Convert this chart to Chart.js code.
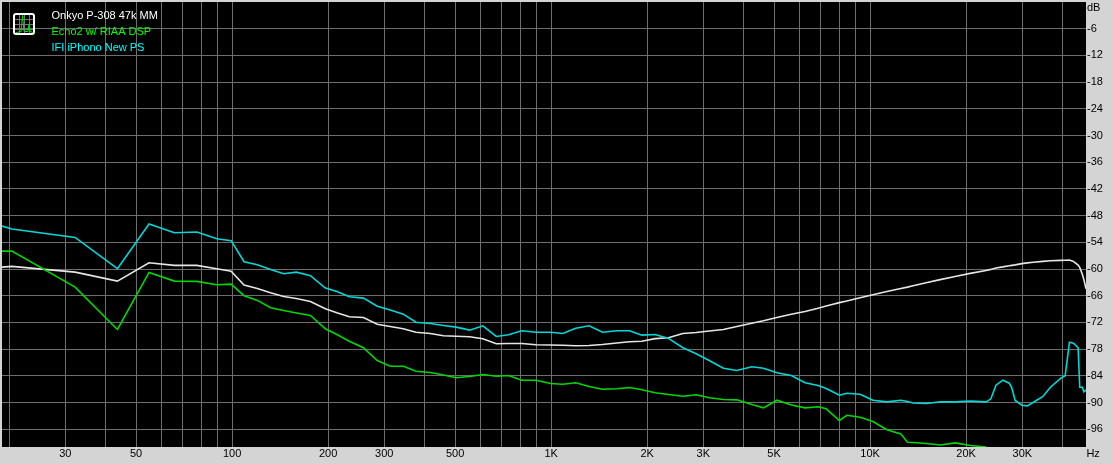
<!DOCTYPE html>
<html>
<head>
<meta charset="utf-8">
<title>Noise floor</title>
<script src="https://cdn.jsdelivr.net/npm/chart.js@4"></script>
<style>
    html, body { margin: 0; padding: 0; background: #d4d4d4; overflow: hidden; }
    canvas { display: block; }
</style>
</head>
<body>
<canvas id="noise-chart" width="1113" height="464"></canvas>
<script>
// Measurement grid in Hz, shared by the three traces
const freqs = [19, 20.4, 32.2, 43.7, 54.9, 65.9, 77.5, 89.5, 99.3, 109, 120, 132, 145, 159, 176, 196, 213, 233, 258, 285,
    313, 344, 377, 418, 460, 504, 555, 611, 673, 735, 809, 897, 996, 1088, 1194, 1315, 1448, 1607, 1760, 1925,
    2118, 2332, 2588, 2848, 3128, 3468, 3820, 4258, 4630, 5100, 5660, 6250, 6870, 7280, 7600, 8010, 8450, 9300, 10200, 11280,
    12480, 13090, 13640, 14980, 16580, 18470, 20590, 23100, 23900, 24800, 26060, 27300, 27800, 28480, 29890, 31100, 32500, 34800, 36670, 39600,
    40860, 42150, 43380, 44870, 45400, 46280, 46760, 47500];

const onkyo = [-59.58, -59.42, -60.7, -62.72, -58.59, -59.19, -59.19, -59.94, -60.48, -63.62, -64.37, -65.33, -66.17, -66.62, -67.29, -68.93, -69.83, -70.73, -70.89, -72.4,
    -72.91, -73.43, -74.2, -74.49, -75, -75.12, -75.23, -75.68, -76.8, -76.74, -76.74, -77.03, -77.07, -77.12, -77.25, -77.19, -76.96, -76.62, -76.35, -76.24,
    -75.65, -75.45, -74.48, -74.26, -73.92, -73.59, -72.91, -72.17, -71.63, -70.89, -70.17, -69.54, -68.82, -68.3, -67.96, -67.56, -67.18, -66.44, -65.78, -65.04,
    -64.37, -64.07, -63.76, -63.08, -62.39, -61.67, -60.99, -60.32, -60.09, -59.76, -59.53, -59.26, -59.19, -59.08, -58.79, -58.63, -58.5, -58.29, -58.16, -58.07,
    -58.02, -58, -58.29, -59.1, -59.64, -61.22, -62.34, -64.43];

const echo2 = [-55.98, -55.98, -64.07, -73.59, -60.77, -62.72, -62.79, -63.53, -63.4, -66, -67.06, -68.71, -69.31, -69.88, -70.44, -73.43, -74.71, -76.22, -77.7, -80.56,
    -81.84, -81.84, -82.97, -83.26, -83.82, -84.45, -84.16, -83.7, -84.09, -83.93, -84.99, -84.99, -85.73, -85.89, -85.57, -86.41, -87.01, -86.92, -86.63, -87.15,
    -87.82, -88.2, -88.59, -88.27, -88.95, -89.33, -89.4, -90.45, -91.2, -89.49, -90.57, -91.2, -90.97, -91.42, -92.59, -94.05, -92.87, -93.31, -94.28, -96.12,
    -97.05, -98.93, -99, -99.23, -99.56, -99.07, -99.67, -100, null, null, null, null, null, null, null, null, null, null, null, null,
    null, null, null, null, null, null, null, null];

const ifi = [-50.35, -51.03, -52.9, -59.94, -49.9, -51.84, -51.7, -53.19, -53.64, -58.36, -59.04, -60.09, -61.06, -60.7, -61.51, -64.3, -65.04, -66.23, -66.55, -68.35,
    -69.2, -70.15, -71.95, -72.24, -72.69, -73.07, -73.74, -72.76, -75.16, -74.78, -73.88, -74.2, -74.2, -74.49, -73.3, -72.76, -74.2, -73.88, -73.88, -74.87,
    -74.71, -75.6, -77.7, -79.05, -80.56, -82.29, -82.81, -81.98, -82.29, -83.33, -83.93, -85.57, -86.18, -86.85, -87.53, -88.36, -87.91, -88.14, -89.49, -89.85,
    -89.49, -89.78, -90.12, -90.23, -89.85, -89.85, -89.67, -89.85, -89.17, -86.11, -84.99, -85.66, -86.7, -89.55, -90.61, -90.75, -89.94, -88.65, -86.63, -84.54,
    -84, -76.44, -76.67, -77.7, -86.56, -86.56, -87.6, -87.15];

const legendLabels = ['Onkyo P-308 47k MM', 'Echo2 w/ RIAA DSP', 'IFI iPhono New PS'];
const lineColors = ['#e6e6e6', '#00d800', '#00d8d8'];
const legendColors = ['#ffffff', '#00ff00', '#00ffff'];

// Gridlines and their labels; the two unit labels sit on ticks with no gridline
const xGridValues = [20, 30, 40, 50, 60, 70, 80, 90, 100, 200, 300, 400, 500, 600, 700, 800, 900, 1000,
    2000, 3000, 4000, 5000, 6000, 7000, 8000, 9000, 10000, 20000, 30000, 40000];
const xTickLabels = { 30: '30', 50: '50', 100: '100', 200: '200', 300: '300', 500: '500', 1000: '1K', 2000: '2K',
    3000: '3K', 5000: '5K', 10000: '10K', 20000: '20K', 30000: '30K', 50000: 'Hz' };
const yGridValues = [-6, -12, -18, -24, -30, -36, -42, -48, -54, -60, -66, -72, -78, -84, -90, -96];
const xUnitTick = 50000;
const yUnitTick = -1.4;

const axisFont = { family: '"Liberation Sans", Arial, sans-serif', size: 11 };
const gridColor = '#6e6e6e';

// Black plot background and the small app icon in the corner
const plotDecor = {
    id: 'plotDecor',
    beforeDraw(chart) {
        const { ctx, chartArea: a } = chart;
        ctx.save();
        ctx.fillStyle = '#000';
        ctx.fillRect(a.left, a.top, a.right - a.left, a.bottom - a.top);
        ctx.restore();
    },
    afterDraw(chart) {
        const { ctx } = chart;
        ctx.save();
        ctx.strokeStyle = '#fff';
        ctx.lineWidth = 2;
        ctx.beginPath();
        ctx.roundRect(14, 14, 20, 20, 2);
        ctx.stroke();
        ctx.strokeStyle = '#777';
        ctx.lineWidth = 1;
        ctx.beginPath();
        [19.5, 24.5, 29.5].forEach(p => {
            ctx.moveTo(p, 15); ctx.lineTo(p, 33);
            ctx.moveTo(15, p); ctx.lineTo(33, p);
        });
        ctx.stroke();
        ctx.strokeStyle = '#00e000';
        ctx.beginPath();
        ctx.moveTo(16, 32.5); ctx.lineTo(21, 31.5); ctx.lineTo(22.5, 15.5); ctx.lineTo(24, 31.5);
        ctx.lineTo(28, 31.5); ctx.lineTo(29, 24); ctx.lineTo(30, 31.5); ctx.lineTo(33, 32.5);
        ctx.stroke();
        ctx.restore();
    }
};

const chart = new Chart(document.getElementById('noise-chart').getContext('2d'), {
    type: 'line',
    data: {
        datasets: [onkyo, echo2, ifi].map((values, i) => ({
            label: legendLabels[i],
            data: freqs.map((f, k) => ({ x: f, y: values[k] })),
            borderColor: lineColors[i],
            borderWidth: 1.6,
            pointRadius: 0,
            tension: 0,
            order: 2 - i
        }))
    },
    options: {
        responsive: false,
        animation: false,
        layout: { padding: { left: 2, top: 2, right: 0, bottom: 0 } },
        plugins: {
            tooltip: { enabled: false },
            legend: {
                position: 'chartArea',
                align: 'start',
                title: { display: true, text: '', font: { size: 1 }, padding: { top: 5, bottom: 0 } },
                labels: {
                    boxWidth: 40,
                    boxHeight: 12,
                    padding: 4,
                    font: axisFont,
                    generateLabels: () => legendLabels.map((text, i) => ({
                        text,
                        fontColor: legendColors[i],
                        fillStyle: 'transparent',
                        strokeStyle: 'transparent',
                        lineWidth: 0,
                        datasetIndex: i
                    }))
                }
            }
        },
        scales: {
            x: {
                type: 'logarithmic',
                min: 19,
                max: 47500,
                afterBuildTicks: scale => {
                    scale.ticks = xGridValues.concat(xUnitTick).map(value => ({ value }));
                },
                afterFit: scale => {
                    scale.height = 17;
                    scale.paddingLeft = 0;
                    scale.paddingRight = 0;
                },
                grid: {
                    color: ctx => ctx.tick && ctx.tick.value === xUnitTick ? 'transparent' : gridColor,
                    drawTicks: false
                },
                border: { display: false },
                ticks: {
                    autoSkip: false,
                    maxRotation: 0,
                    minRotation: 0,
                    padding: 0,
                    color: '#000',
                    font: axisFont,
                    callback: value => xTickLabels[value] || ''
                }
            },
            y: {
                position: 'right',
                min: -100,
                max: 0,
                afterBuildTicks: scale => {
                    scale.ticks = [yUnitTick].concat(yGridValues).map(value => ({ value }));
                },
                afterFit: scale => {
                    scale.width = 27;
                    scale.paddingTop = 0;
                    scale.paddingBottom = 0;
                },
                grid: {
                    color: ctx => ctx.tick && ctx.tick.value === yUnitTick ? 'transparent' : gridColor,
                    drawTicks: false
                },
                border: { display: false },
                ticks: {
                    autoSkip: false,
                    padding: 1,
                    crossAlign: 'near',
                    color: '#000',
                    font: axisFont,
                    callback: value => value === yUnitTick ? 'dB' : String(value)
                }
            }
        }
    },
    plugins: [plotDecor]
});
</script>
</body>
</html>
